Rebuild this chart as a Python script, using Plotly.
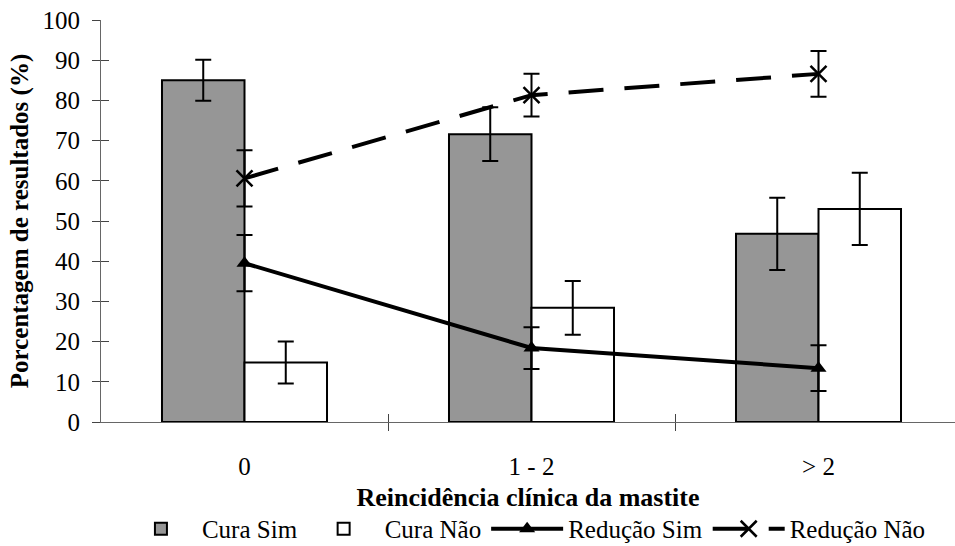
import plotly.graph_objects as go

# Data: clinical recurrence of mastitis vs. outcome percentages
categories = ["0", "1 - 2", "> 2"]
cura_sim = [85.0, 71.6, 46.8]
cura_sim_err = [5.1, 6.7, 9.0]
cura_nao = [14.8, 28.4, 53.0]
cura_nao_err = [5.2, 6.7, 9.0]
reducao_sim = [39.5, 18.4, 13.4]
reducao_sim_err = [7.0, 5.2, 5.7]
reducao_nao = [60.6, 81.3, 86.6]
reducao_nao_err = [7.0, 5.3, 5.7]
y_ticks = list(range(0, 101, 10))

FONT = "Liberation Serif"
xpos = list(range(len(categories)))
bounds = [i + 0.5 for i in range(len(categories) - 1)]

err_style = dict(type="data", color="black", thickness=2, width=8, visible=True)

fig = go.Figure()
fig.add_trace(go.Bar(
    x=xpos, y=cura_sim, name="Cura Sim",
    marker=dict(color="#969696", line=dict(color="black", width=2)),
    error_y=dict(array=cura_sim_err, **err_style),
))
fig.add_trace(go.Bar(
    x=xpos, y=cura_nao, name="Cura Não",
    marker=dict(color="white", line=dict(color="black", width=2)),
    error_y=dict(array=cura_nao_err, **err_style),
))
fig.add_trace(go.Scatter(
    x=xpos, y=reducao_sim, name="Redução Sim", mode="lines+markers",
    line=dict(color="black", width=4),
    marker=dict(symbol="triangle-up", size=14, color="black"),
    error_y=dict(array=reducao_sim_err, **err_style),
))
fig.add_trace(go.Scatter(
    x=xpos, y=reducao_nao, name="Redução Não", mode="lines+markers",
    line=dict(color="black", width=4, dash="35px,21px"),
    marker=dict(symbol="x-thin", size=16, color="black",
                line=dict(color="black", width=2.5)),
    error_y=dict(array=reducao_nao_err, **err_style),
))
# helper trace so the overlay axes (inner tick halves) are drawn
fig.add_trace(go.Scatter(x=[None], y=[None], xaxis="x2", yaxis="y2",
                         showlegend=False, hoverinfo="skip"))

xrange = [-0.5, -0.5 + 854 / 287]
ydomain = [(546 - 422) / 526, 1.0]

fig.update_layout(
    width=955, height=546,
    margin=dict(l=101, r=0, t=20, b=0, autoexpand=False),
    paper_bgcolor="white", plot_bgcolor="white",
    font=dict(family=FONT, size=25, color="black"),
    barmode="group", bargap=0.425, bargroupgap=0,
    showlegend=True,
    legend=dict(orientation="h", x=0.497, xanchor="center", y=-0.0114,
                yanchor="bottom", font=dict(size=25), itemwidth=72,
                traceorder="normal", bgcolor="rgba(0,0,0,0)"),
    xaxis=dict(
        range=xrange, tickvals=xpos, ticktext=categories, ticks="",
        showline=True, linecolor="#666666", linewidth=1,
        showgrid=False, zeroline=False, ticklabelstandoff=22,
        tickfont=dict(size=25),
        minor=dict(tickvals=bounds, ticks="outside", ticklen=8,
                   tickcolor="#444444", showgrid=False),
        title=dict(text="<b>Reincidência clínica da mastite</b>",
                   font=dict(size=26), standoff=8),
    ),
    yaxis=dict(
        domain=ydomain,
        range=[0, 100], tickvals=y_ticks, ticks="outside", ticklen=8,
        tickcolor="#444444", showline=True, linecolor="#666666",
        linewidth=1, showgrid=False, zeroline=False,
        ticklabelstandoff=7, tickfont=dict(size=25),
        title=dict(text="<b>Porcentagem de resultados (%)</b>",
                   font=dict(size=25), standoff=6),
    ),
    xaxis2=dict(overlaying="x", anchor="y2", range=xrange,
                tickvals=bounds, ticks="inside", ticklen=8,
                tickcolor="#444444", showticklabels=False,
                showgrid=False, zeroline=False, showline=False),
    yaxis2=dict(overlaying="y", anchor="x2", range=[0, 100],
                domain=ydomain,
                tickvals=y_ticks, ticks="inside", ticklen=8,
                tickcolor="#444444", showticklabels=False,
                showgrid=False, zeroline=False, showline=False),
)

fig.write_html("out.html")
